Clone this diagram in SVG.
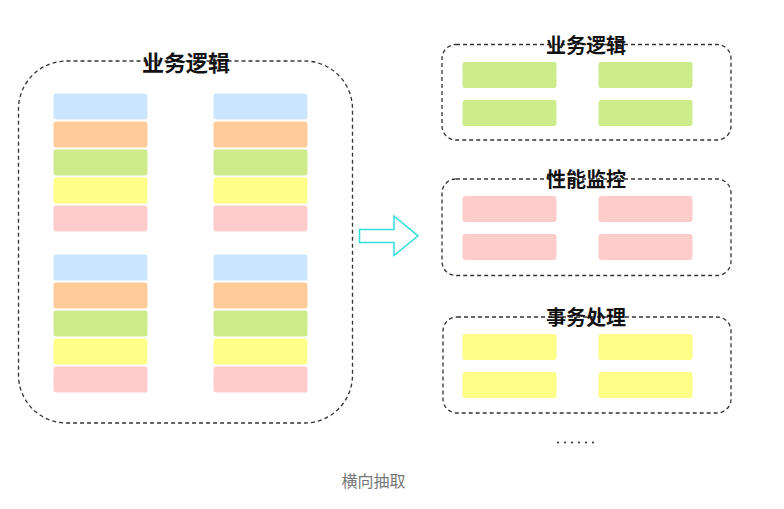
<svg xmlns="http://www.w3.org/2000/svg" width="784" height="509" viewBox="0 0 784 509">
  <style>
    .frame { fill: none; stroke: #333; stroke-width: 1.3; stroke-dasharray: 4 3; }
    .blk { stroke: #fff; stroke-width: 1; }
    .blue { fill: #cce5ff; }
    .orange { fill: #ffcc99; }
    .green { fill: #cdeb8b; }
    .yellow { fill: #ffff88; }
    .pink { fill: #ffcccc; }
    .title { font-family: "Noto Sans CJK SC", sans-serif; font-weight: bold; font-size: 20px; fill: #111; text-anchor: middle; }
    .big { font-size: 22px; }
    .caption { font-family: "Noto Sans CJK SC", sans-serif; font-size: 16px; fill: #777; text-anchor: middle; }
  </style>
  <defs>
    <rect id="b" width="95" height="27" rx="3" ry="3"/>
    <g id="stack">
      <use href="#b" class="blk blue" y="0"/>
      <use href="#b" class="blk orange" y="28"/>
      <use href="#b" class="blk green" y="56"/>
      <use href="#b" class="blk yellow" y="84"/>
      <use href="#b" class="blk pink" y="112"/>
    </g>
  </defs>
  <rect width="784" height="509" fill="#fff"/>

  <!-- monolithic module -->
  <g id="monolith">
    <rect class="frame" x="18.5" y="61" width="334" height="362" rx="48" ry="48"/>
    <use href="#stack" x="53" y="93"/>
    <use href="#stack" x="213" y="93"/>
    <use href="#stack" x="53" y="254"/>
    <use href="#stack" x="213" y="254"/>
    <text class="title big" x="186" y="71">业务逻辑</text>
  </g>

  <!-- split modules -->
  <g id="business">
    <rect class="frame" x="442" y="44.5" width="289" height="95.5" rx="14" ry="14"/>
    <use href="#b" class="blk green" x="462" y="61.5"/>
    <use href="#b" class="blk green" x="598" y="61.5"/>
    <use href="#b" class="blk green" x="462" y="99.5"/>
    <use href="#b" class="blk green" x="598" y="99.5"/>
    <text class="title" x="586" y="53">业务逻辑</text>
  </g>

  <g id="monitoring">
    <rect class="frame" x="442" y="179" width="289" height="96.5" rx="14" ry="14"/>
    <use href="#b" class="blk pink" x="462" y="195.5"/>
    <use href="#b" class="blk pink" x="598" y="195.5"/>
    <use href="#b" class="blk pink" x="462" y="233.5"/>
    <use href="#b" class="blk pink" x="598" y="233.5"/>
    <text class="title" x="586" y="187">性能监控</text>
  </g>

  <g id="transaction">
    <rect class="frame" x="443" y="317" width="288" height="96" rx="14" ry="14"/>
    <use href="#b" class="blk yellow" x="462" y="333.5"/>
    <use href="#b" class="blk yellow" x="598" y="333.5"/>
    <use href="#b" class="blk yellow" x="462" y="371.5"/>
    <use href="#b" class="blk yellow" x="598" y="371.5"/>
    <text class="title" x="586" y="325">事务处理</text>
  </g>

  <g id="more">
    <g fill="#222">
      <circle cx="558" cy="442.5" r="1"/>
      <circle cx="565" cy="442.5" r="1"/>
      <circle cx="572" cy="442.5" r="1"/>
      <circle cx="579" cy="442.5" r="1"/>
      <circle cx="586" cy="442.5" r="1"/>
      <circle cx="593" cy="442.5" r="1"/>
    </g>
  </g>

  <!-- transformation arrow -->
  <g id="connectors">
    <polygon points="359.5,229.5 394,229.5 394,216 418,235.8 394,255.5 394,242.5 359.5,242.5" fill="#fff" stroke="#33dddd" stroke-width="1.5" stroke-linejoin="miter"/>
  </g>

  <text class="caption" x="373.5" y="487">横向抽取</text>
</svg>
